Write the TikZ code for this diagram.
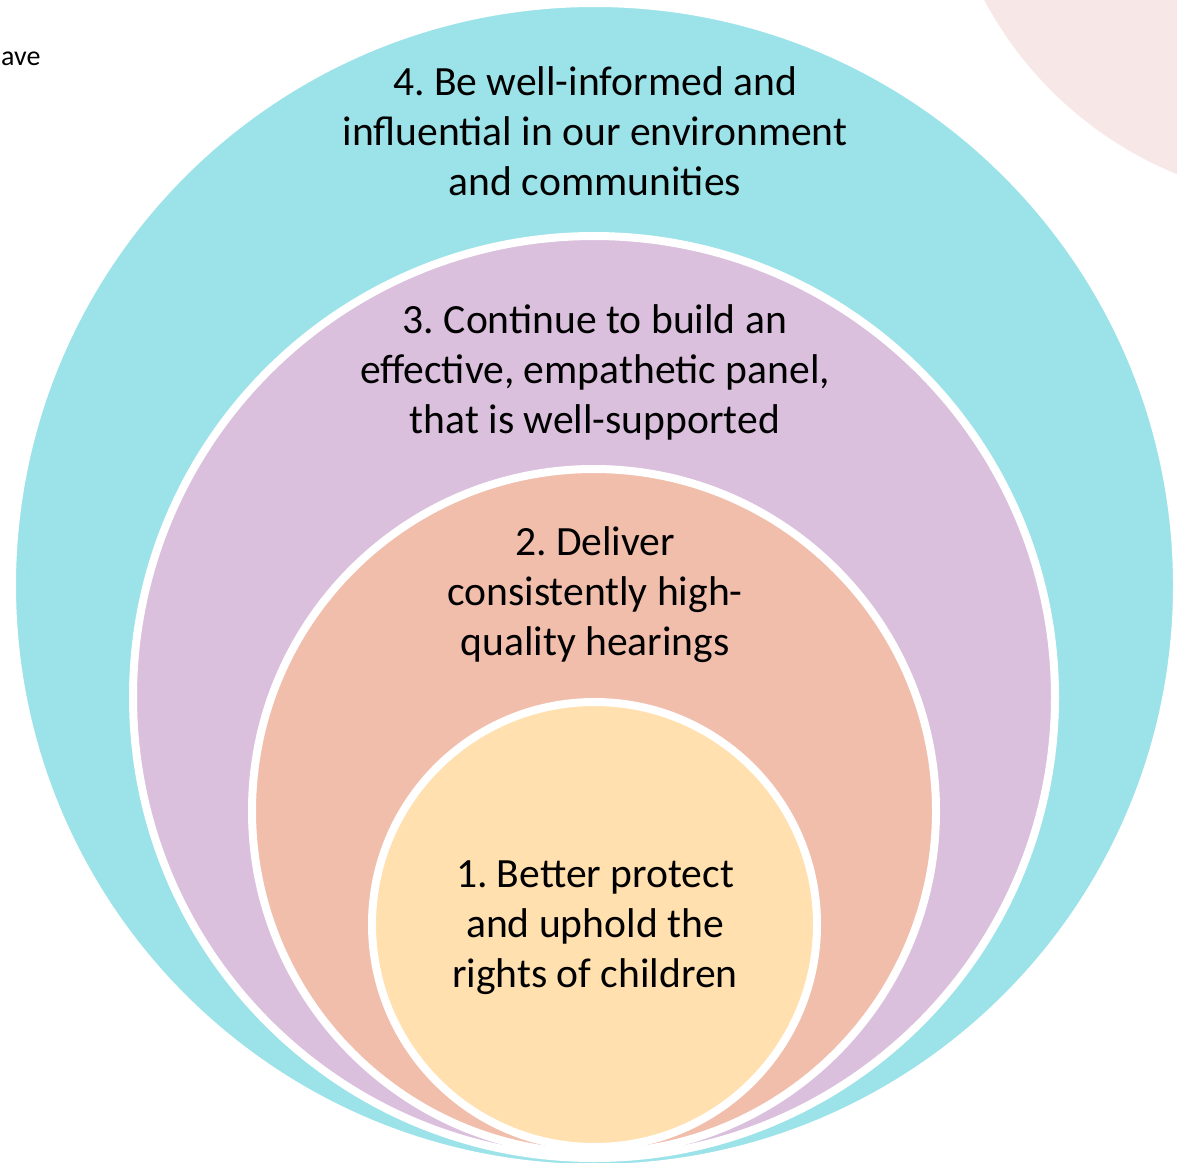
\documentclass[tikz,border=0pt]{standalone}
\usepackage{fontspec}
\setmainfont{Carlito}
\frenchspacing
\definecolor{ringfour}{HTML}{9BE3E9}
\definecolor{ringthree}{HTML}{DAC0DD}
\definecolor{ringtwo}{HTML}{F1BEAC}
\definecolor{ringone}{HTML}{FFE0AE}
\definecolor{blush}{HTML}{F8E7E7}
\tikzset{
    ring/.style={shape=circle,draw=white,line width=8pt,inner sep=0pt},
    goal/.style={align=center,font=\fontsize{41.6}{50}\selectfont,inner sep=0pt,anchor=base}
}
\begin{document}
\begin{tikzpicture}[x=1pt,y=-1pt]
    \useasboundingbox (0,0) rectangle (1177,1162);
    \clip (0,0) rectangle (1177,1162);

    \node[shape=circle,fill=blush,minimum size=760pt] (P) at (1320,-178) {};
    \node[anchor=base west,inner sep=0pt,font=\fontsize{28}{32}\selectfont] (A) at (1,65) {ave};

    \node[ring,fill=ringfour,minimum size=1165pt] (C4) at (594.5,585.5) {};
    \node[ring,fill=ringthree,minimum size=922pt] (C3) at (594,697) {};
    \node[ring,fill=ringtwo,minimum size=684pt] (C2) at (594,811) {};
    \node[ring,fill=ringone,minimum size=445pt] (C1) at (594.5,924.5) {};

    % last line of each text sits on the given baseline
    \node[goal] (T4) at (595,195) {4. Be well-informed and\\influential in our environment\\and communities};
    \node[goal] (T3) at (595,433) {3. Continue to build an\\effective, empathetic panel,\\that is well-supported};
    \node[goal] (T2) at (595,655) {2. Deliver\\consistently high-\\quality hearings};
    \node[goal] (T1) at (595,987) {1. Better protect\\and uphold the\\rights of children};
\end{tikzpicture}
\end{document}
